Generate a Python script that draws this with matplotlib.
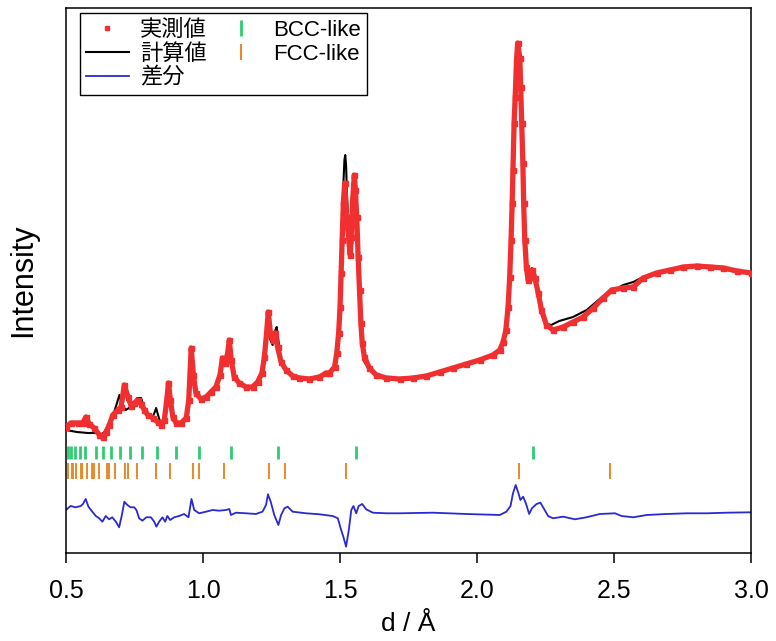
import matplotlib
matplotlib.use("Agg")
import matplotlib.pyplot as plt
from matplotlib.lines import Line2D
import numpy as np

plt.rcParams["font.family"] = ["Liberation Sans", "Noto Sans CJK JP", "DejaVu Sans"]

# observed pattern (d in angstrom, intensity in arb. units)
obs_d = [0.500, 0.518, 0.543, 0.561, 0.573, 0.585, 0.603, 0.622, 0.634, 0.646,
         0.658, 0.671, 0.689, 0.701, 0.713, 0.726, 0.738, 0.750, 0.762, 0.774,
         0.786, 0.799, 0.817, 0.835, 0.847, 0.859, 0.869, 0.874, 0.881, 0.890,
         0.902, 0.920, 0.939, 0.948, 0.957, 0.965, 0.974, 0.992, 1.011, 1.029,
         1.047, 1.062, 1.071, 1.081, 1.090, 1.096, 1.103, 1.114, 1.132, 1.157,
         1.181, 1.199, 1.215, 1.224, 1.232, 1.238, 1.246, 1.254, 1.264, 1.272,
         1.285, 1.303, 1.327, 1.352, 1.388, 1.425, 1.449, 1.461, 1.480, 1.488,
         1.495, 1.500, 1.504, 1.508, 1.512, 1.517, 1.524, 1.532, 1.537, 1.542,
         1.546, 1.552, 1.556, 1.561, 1.566, 1.571, 1.576, 1.581, 1.589, 1.607,
         1.632, 1.668, 1.717, 1.766, 1.815, 1.863, 1.912, 1.961, 2.009, 2.058,
         2.083, 2.095, 2.105, 2.113, 2.119, 2.124, 2.128, 2.131, 2.135, 2.139,
         2.144, 2.148, 2.156, 2.159, 2.163, 2.167, 2.170, 2.174, 2.180, 2.186,
         2.195, 2.202, 2.211, 2.223, 2.235, 2.253, 2.277, 2.314, 2.350, 2.387,
         2.424, 2.460, 2.491, 2.533, 2.570, 2.606, 2.655, 2.704, 2.753, 2.802,
         2.850, 2.899, 2.948, 3.000]
obs_i = [126, 130, 130, 130, 136, 129, 125, 118, 116, 121,
         128, 138, 143, 146, 168, 156, 147, 150, 153, 149,
         143, 138, 135, 131, 128, 133, 156, 170, 153, 136,
         130, 130, 135, 153, 205, 178, 160, 154, 156, 161,
         166, 178, 195, 190, 200, 213, 193, 176, 170, 166,
         166, 171, 180, 196, 220, 241, 220, 213, 220, 206,
         191, 183, 177, 175, 174, 176, 180, 180, 186, 200,
         220, 246, 280, 313, 350, 370, 336, 313, 298, 316,
         353, 378, 363, 336, 296, 263, 230, 210, 196, 185,
         178, 175, 174, 175, 177, 181, 185, 189, 193, 198,
         203, 211, 223, 246, 276, 313, 350, 383, 430, 456,
         493, 510, 495, 466, 430, 390, 350, 313, 286, 273,
         276, 283, 275, 260, 243, 228, 223, 226, 231, 236,
         245, 255, 263, 265, 266, 275, 280, 283, 286, 287,
         286, 285, 282, 280]

# calculated pattern
calc_d = [0.500, 0.540, 0.580, 0.612, 0.626, 0.640, 0.656, 0.671, 0.684, 0.695,
          0.706, 0.718, 0.730, 0.745, 0.760, 0.774, 0.786, 0.800, 0.815, 0.824,
          0.829, 0.836, 0.847, 0.859, 0.869, 0.874, 0.881, 0.890, 0.902, 0.920,
          0.939, 0.948, 0.957, 0.965, 0.974, 0.992, 1.011, 1.029, 1.047, 1.062,
          1.071, 1.081, 1.090, 1.096, 1.103, 1.114, 1.132, 1.157, 1.181, 1.199,
          1.215, 1.224, 1.232, 1.238, 1.246, 1.254, 1.264, 1.269, 1.275, 1.285,
          1.303, 1.327, 1.352, 1.388, 1.425, 1.449, 1.461, 1.480, 1.488, 1.495,
          1.500, 1.504, 1.508, 1.512, 1.516, 1.519, 1.522, 1.526, 1.532, 1.537,
          1.542, 1.547, 1.551, 1.556, 1.561, 1.566, 1.571, 1.576, 1.581, 1.589,
          1.607, 1.632, 1.668, 1.717, 1.766, 1.815, 1.863, 1.912, 1.961, 2.009,
          2.058, 2.083, 2.095, 2.105, 2.113, 2.119, 2.124, 2.128, 2.132, 2.136,
          2.140, 2.145, 2.149, 2.153, 2.158, 2.162, 2.166, 2.170, 2.174, 2.180,
          2.186, 2.195, 2.200, 2.208, 2.223, 2.235, 2.253, 2.270, 2.300, 2.350,
          2.400, 2.460, 2.533, 2.570, 2.606, 2.655, 2.704, 2.753, 2.802, 2.850,
          2.899, 2.948, 3.000]
calc_i = [123, 121, 120, 120, 118, 121, 128, 137, 148, 158,
          148, 143, 145, 149, 155, 155, 145, 137, 135, 141,
          145, 138, 128, 133, 156, 170, 153, 136, 130, 130,
          135, 151, 193, 173, 160, 154, 156, 161, 166, 178,
          193, 188, 198, 210, 192, 176, 170, 166, 166, 171,
          180, 193, 213, 223, 213, 208, 223, 226, 213, 193,
          183, 177, 175, 174, 176, 180, 180, 186, 200, 220,
          247, 283, 328, 368, 393, 398, 388, 353, 318, 308,
          328, 363, 378, 368, 338, 295, 258, 223, 203, 191,
          183, 178, 175, 174, 175, 177, 181, 185, 189, 193,
          198, 203, 211, 223, 248, 278, 313, 348, 388, 428,
          458, 483, 490, 481, 453, 418, 378, 338, 305, 283,
          273, 278, 285, 275, 255, 240, 229, 228, 232, 236,
          243, 257, 268, 271, 276, 280, 283, 286, 287, 286,
          285, 282, 280]

# difference (obs - calc)
diff_d = [0.500, 0.517, 0.535, 0.554, 0.562, 0.572, 0.582, 0.596, 0.609, 0.621,
          0.633, 0.645, 0.657, 0.669, 0.682, 0.694, 0.704, 0.713, 0.724, 0.736,
          0.749, 0.757, 0.767, 0.779, 0.793, 0.810, 0.822, 0.830, 0.840, 0.852,
          0.862, 0.870, 0.880, 0.895, 0.913, 0.931, 0.947, 0.958, 0.968, 0.986,
          1.011, 1.035, 1.059, 1.084, 1.096, 1.102, 1.120, 1.157, 1.193, 1.217,
          1.230, 1.237, 1.247, 1.260, 1.275, 1.285, 1.297, 1.309, 1.327, 1.376,
          1.425, 1.473, 1.492, 1.504, 1.512, 1.522, 1.532, 1.541, 1.549, 1.559,
          1.568, 1.581, 1.595, 1.620, 1.668, 1.717, 1.839, 1.961, 2.083, 2.107,
          2.122, 2.131, 2.141, 2.151, 2.158, 2.168, 2.178, 2.190, 2.200, 2.217,
          2.231, 2.243, 2.259, 2.277, 2.314, 2.357, 2.399, 2.448, 2.503, 2.527,
          2.570, 2.619, 2.692, 2.765, 2.838, 2.911, 3.000]
diff_i = [2, 6, 4.7, 6, 8, 13, 5.3, 0.3, -4, -6.3,
          -9.7, -4, -7.3, -5.3, -9.7, -15.3, -3, 10.3, 7, 4.7,
          4.7, 2, -6.3, -8.7, -5.3, -5.3, -9.7, -14.7, -9.7, -5.3,
          -9.7, -4, -8, -5.3, -4, -2, -5.3, 13, 2, -1.3,
          0.3, 2, 1.3, 2, 3, -3, -0.7, -1.3, -2, 0.3,
          7, 17.7, 10.3, -3, -13, -3, 3.7, 5.3, 0.3, -1.3,
          -2.3, -4, -6.3, -18, -24.7, -34.7, -18, 2, 6, -1.3,
          6, 8, 2.7, -0.7, -1.3, -1.3, -0.7, -2, -3, 0.3,
          6, 18.7, 27, 18.7, 12, 15.3, 8.7, -2, 3.7, 8,
          9.3, 3.7, -4, -6.3, -4.7, -7.3, -5.3, -2, -1.3, -4,
          -5.3, -3, -2, -1.3, -1.3, -0.7, -0.3]

# reflection positions
bcc_d = [0.5057, 0.5195, 0.5346, 0.551, 0.569, 0.611, 0.6363, 0.6646, 0.697, 0.7347,
         0.779, 0.833, 0.900, 0.9857, 1.102, 1.2726, 1.559, 2.204]
fcc_d = [0.5071, 0.5218, 0.5257, 0.5379, 0.5555, 0.5602, 0.575, 0.5967, 0.6025, 0.6211,
         0.6487, 0.6562, 0.6804, 0.7172, 0.7273, 0.7607, 0.8281, 0.8784, 0.9622, 0.9872,
         1.0758, 1.2422, 1.2974, 1.5214, 2.1517, 2.4846]

RED = "#f03030"
GREEN = "#2ecc71"
ORANGE = "#e8892b"
BLUE = "#2a2ad0"

fig = plt.figure(figsize=(7.76, 6.41), dpi=100)
ax = fig.add_axes([0.085, 0.1373, 0.883, 0.8502])

diff_offset = 41
ax.plot(diff_d, np.array(diff_i) + diff_offset, color=BLUE, lw=1.3, zorder=2)
ax.plot(calc_d, calc_i, color="black", lw=1.5, zorder=3)
ax.plot(obs_d, obs_i, color=RED, lw=3.8, ls="-", marker="s", ms=3.6, mec=RED,
        mfc=RED, zorder=4)

ax.vlines(bcc_d, 94, 107, color=GREEN, lw=2.0)
ax.vlines(fcc_d, 74, 90, color=ORANGE, lw=1.4)

ax.set_xlim(0.5, 3.0)
ax.set_ylim(0, 545)
ax.set_xticks([0.5, 1.0, 1.5, 2.0, 2.5, 3.0])
ax.set_xticklabels(["0.5", "1.0", "1.5", "2.0", "2.5", "3.0"])
ax.set_yticks([])
ax.tick_params(axis="x", direction="out", length=7, width=1.1, labelsize=18, pad=12)
for sp in ax.spines.values():
    sp.set_linewidth(1.1)

ax.set_xlabel("d / Å", fontsize=19, labelpad=6)
ax.set_ylabel("Intensity", fontsize=22, labelpad=20)

handles = [
    Line2D([], [], ls="none", marker="s", ms=3, color=RED),
    Line2D([], [], color="black", lw=1.5),
    Line2D([], [], color=BLUE, lw=1.3),
    Line2D([], [], ls="none", marker="|", ms=11, mew=2, color=GREEN),
    Line2D([], [], ls="none", marker="|", ms=11, mew=1.5, color=ORANGE),
]
labels = ["実測値", "計算値", "差分", "BCC-like", "FCC-like"]
leg = ax.legend(handles, labels, ncol=2, loc="upper left", bbox_to_anchor=(0.02, 0.99),
                borderaxespad=0, fontsize=16, frameon=True, fancybox=False,
                edgecolor="black", framealpha=1, handlelength=1.9, handletextpad=0.5,
                labelspacing=0.12, columnspacing=0.6, borderpad=0.3)
leg.get_frame().set_linewidth(1.0)

fig.savefig("out.png", dpi=100)
